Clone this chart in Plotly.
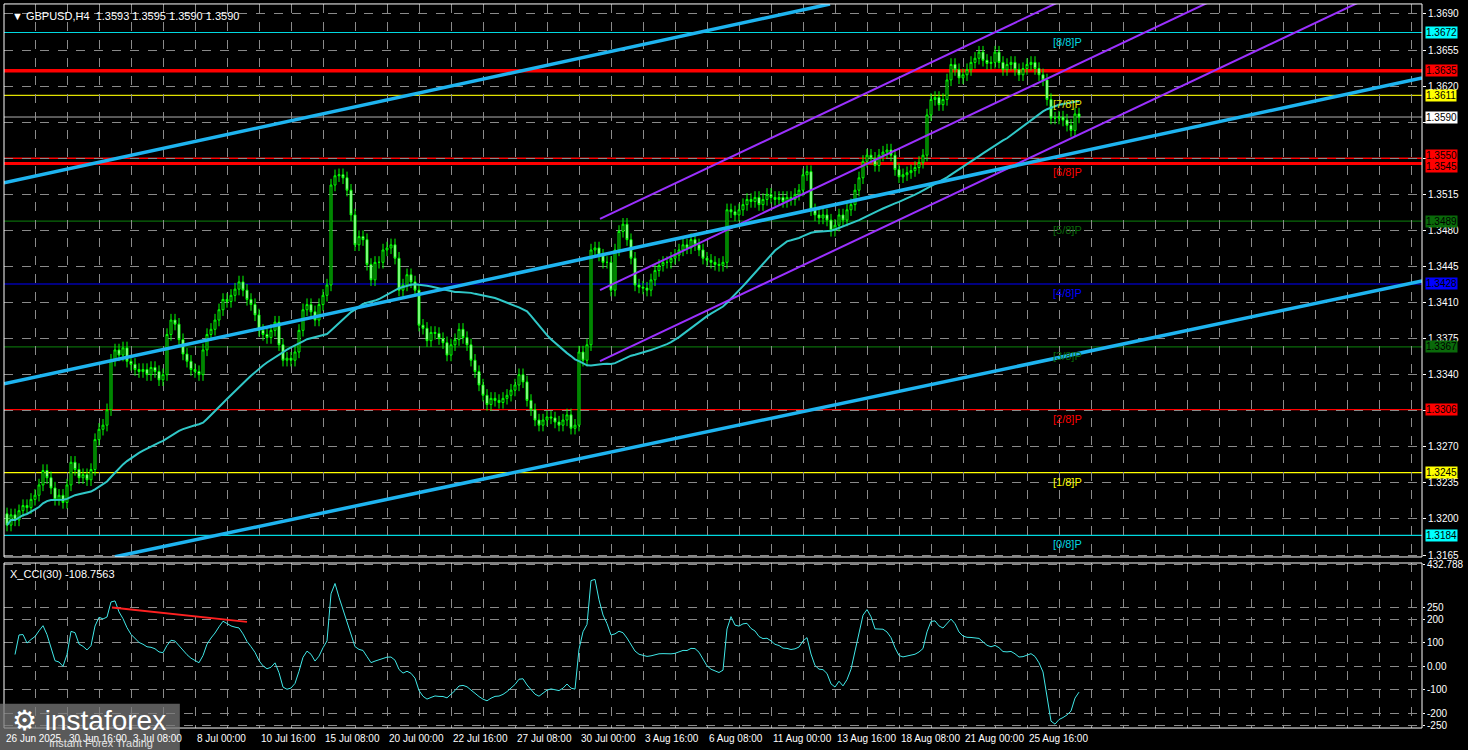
import numpy as np
import pandas as pd
import plotly.graph_objects as go

# ---------------- data ----------------
closes = [
 1.3194,1.3204,1.3199,1.3208,1.3213,1.3211,1.3219,1.3223,
 1.3233,1.3247,1.3240,1.3230,1.3219,1.3223,1.3216,1.3233,
 1.3255,1.3248,1.3240,1.3243,1.3238,1.3248,1.3277,1.3287,
 1.3291,1.3306,1.3354,1.3364,1.3359,1.3366,1.3353,1.3350,
 1.3345,1.3343,1.3345,1.3340,1.3347,1.3343,1.3335,1.3340,
 1.3379,1.3393,1.3389,1.3374,1.3360,1.3353,1.3345,1.3343,
 1.3340,1.3364,1.3379,1.3384,1.3393,1.3403,1.3413,1.3411,
 1.3417,1.3423,1.3430,1.3422,1.3413,1.3408,1.3398,1.3383,
 1.3379,1.3376,1.3383,1.3391,1.3369,1.3354,1.3356,1.3354,
 1.3362,1.3383,1.3403,1.3408,1.3401,1.3393,1.3408,1.3417,
 1.3427,1.3524,1.3533,1.3534,1.3531,1.3519,1.3495,1.3466,
 1.3474,1.3471,1.3447,1.3432,1.3449,1.3449,1.3461,1.3463,
 1.3466,1.3453,1.3422,1.3427,1.3437,1.3430,1.3422,1.3388,
 1.3385,1.3373,1.3381,1.3380,1.3375,1.3371,1.3359,1.3369,
 1.3374,1.3384,1.3376,1.3369,1.3354,1.3343,1.3330,1.3320,
 1.3311,1.3317,1.3315,1.3313,1.3317,1.3320,1.3325,1.3330,
 1.3340,1.3333,1.3315,1.3306,1.3296,1.3291,1.3296,1.3299,
 1.3298,1.3294,1.3291,1.3296,1.3301,1.3288,1.3291,1.3362,
 1.3354,1.3369,1.3461,1.3463,1.3456,1.3449,1.3449,1.3422,
 1.3461,1.3479,1.3486,1.3471,1.3453,1.3427,1.3425,1.3424,
 1.3422,1.3432,1.3441,1.3446,1.3449,1.3449,1.3453,1.3456,
 1.3461,1.3466,1.3463,1.3471,1.3466,1.3461,1.3453,1.3451,
 1.3449,1.3447,1.3446,1.3449,1.3500,1.3498,1.3495,1.3500,
 1.3505,1.3510,1.3508,1.3512,1.3505,1.3510,1.3515,1.3512,
 1.3510,1.3512,1.3508,1.3512,1.3510,1.3515,1.3519,1.3534,
 1.3537,1.3500,1.3495,1.3492,1.3495,1.3490,1.3480,1.3485,
 1.3495,1.3490,1.3500,1.3505,1.3519,1.3531,1.3547,1.3553,
 1.3550,1.3543,1.3553,1.3556,1.3558,1.3553,1.3539,1.3532,
 1.3534,1.3536,1.3538,1.3541,1.3546,1.3553,1.3592,1.3607,
 1.3609,1.3602,1.3607,1.3626,1.3641,1.3636,1.3628,1.3631,
 1.3636,1.3643,1.3647,1.3653,1.3645,1.3642,1.3643,1.3653,
 1.3643,1.3636,1.3641,1.3643,1.3636,1.3631,1.3637,1.3641,
 1.3643,1.3637,1.3631,1.3626,1.3607,1.3589,1.3589,1.3590,
 1.3587,1.3582,1.3577,1.3593,1.3590,
]
first_open = 1.3205
wick = 0.0006

date_bars = [-0.7, 15, 31, 47, 63, 79, 95, 111, 127, 143, 159, 175, 191, 207, 223, 239, 255]
date_labels = ["26 Jun 2025", "30 Jun 16:00", "3 Jul 08:00", "8 Jul 00:00", "10 Jul 16:00",
               "15 Jul 08:00", "20 Jul 00:00", "22 Jul 16:00", "27 Jul 08:00", "30 Jul 00:00",
               "3 Aug 16:00", "6 Aug 08:00", "11 Aug 00:00", "13 Aug 16:00", "18 Aug 08:00",
               "21 Aug 00:00", "25 Aug 16:00"]

price_ticks = [1.3690, 1.3655, 1.3620, 1.3585, 1.3550, 1.3515, 1.3480, 1.3445, 1.3410,
               1.3375, 1.3340, 1.3305, 1.3270, 1.3235, 1.3200, 1.3165]
price_tick_text = ["1.3690", "1.3655", "1.3620", "", "", "1.3515", "1.3480", "1.3445", "1.3410",
                   "1.3375", "1.3340", "", "1.3270", "1.3235", "1.3200", "1.3165"]

murray_prices = [1.3672, 1.3611, 1.3489, 1.3428, 1.3367, 1.3306, 1.3245, 1.3184, 1.3545]
murray_labels = ["[8/8]P", "[7/8]P", "[5/8]P", "[4/8]P", "[3/8]P", "[2/8]P", "[1/8]P", "[0/8]P", "[6/8]P"]
murray_colors = ["#00d8e0", "#e0e000", "#0a6a0a", "#0000ff", "#0a6a0a", "#ff0000", "#ffff00", "#00d8e0", "#ff0000"]
murray_widths = [1.2, 1.2, 1.2, 1.2, 1.2, 1.2, 1.2, 1.2, 3]

extra_levels = [1.3635, 1.3550, 1.3590]
extra_colors = ["#ff0000", "#ff0000", "#b0b0b0"]
extra_widths = [3.5, 1.5, 1]

box_prices = [1.3672, 1.3635, 1.3611, 1.3590, 1.3550, 1.3545, 1.3489, 1.3428, 1.3367, 1.3306, 1.3245, 1.3184]
box_bg = ["#00ffff", "#ff0000", "#ffff00", "#ffffff", "#ff0000", "#ff0000", "#0a6a0a", "#0000ff", "#0a6a0a", "#ff0000", "#ffff00", "#00ffff"]
box_yshift = [0, 0, 0, 0, 3, -3, 0, 0, 0, 0, 0, 0]

# trend lines: (bar0, price0, bar1, price1)
blue_lines = [(-0.75, 1.35261, 205.75, 1.36997),
              (-0.75, 1.33311, 353.75, 1.36279),
              (27.0, 1.31633, 353.75, 1.34310)]
purple_lines = [(148.25, 1.34911, 340.0, 1.38430),
                (148.25, 1.34221, 340.0, 1.37740),
                (148.25, 1.33531, 340.0, 1.37050)]
cci_trend = (26.25, 250.0, 60.0, 189.0)

cci_ticks = [432.788, 250, 200, 100, 0, -100, -200, -250, -265.497]
cci_tick_text = ["432.788", "250", "200", "100", "0.00", "-100", "-200", "-250", "-265.497"]

# ---------------- build ----------------
n = len(closes)
bars = np.arange(n)
opens = [first_open] + closes[:-1]
highs = [max(o, c) + wick for o, c in zip(opens, closes)]
lows = [min(o, c) - wick for o, c in zip(opens, closes)]
df = pd.DataFrame(dict(o=opens, h=highs, l=lows, c=closes))
ma = df.c.rolling(50, min_periods=1).mean()
tp = (df.h + df.l + df.c) / 3
sma = tp.rolling(30, min_periods=3).mean()
md = tp.rolling(30, min_periods=3).apply(lambda s: np.mean(np.abs(s - s.mean())), raw=True)
cci = (tp - sma) / (0.015 * md)

fig = go.Figure()
LINE = "#00ff00"
fig.add_trace(go.Candlestick(x=bars, open=df.o, high=df.h, low=df.l, close=df.c,
    increasing=dict(line=dict(color=LINE, width=1), fillcolor="#000000"),
    decreasing=dict(line=dict(color=LINE, width=1), fillcolor="#ffffff"),
    whiskerwidth=0, xaxis="x", yaxis="y", showlegend=False, hoverinfo="skip"))
fig.add_trace(go.Scatter(x=bars, y=ma, mode="lines", line=dict(color="#30c8c8", width=2),
                         xaxis="x", yaxis="y", showlegend=False))
for (b0, p0, b1, p1) in purple_lines:
    fig.add_trace(go.Scatter(x=[b0, b1], y=[p0, p1], mode="lines",
                             line=dict(color="#9b30ff", width=2), showlegend=False))
for (b0, p0, b1, p1) in blue_lines:
    fig.add_trace(go.Scatter(x=[b0, b1], y=[p0, p1], mode="lines",
                             line=dict(color="#1eb4f0", width=3.5), showlegend=False))
fig.add_trace(go.Scatter(x=bars, y=cci, mode="lines", line=dict(color="#40e8e8", width=1),
                         xaxis="x2", yaxis="y2", showlegend=False))
fig.add_trace(go.Scatter(x=[cci_trend[0], cci_trend[2]], y=[cci_trend[1], cci_trend[3]], mode="lines",
                         line=dict(color="#ff2020", width=2), xaxis="x2", yaxis="y2", showlegend=False))

shapes = []
for p, c, w in zip(murray_prices + extra_levels, murray_colors + extra_colors, murray_widths + extra_widths):
    shapes.append(dict(type="line", xref="x domain", yref="y", x0=0, x1=1, y0=p, y1=p,
                       line=dict(color=c, width=w), layer="below"))
shapes.append(dict(type="rect", xref="paper", yref="paper", x0=0, x1=1, y0=0.2554, y1=0.9987,
                   line=dict(color="white", width=1)))
shapes.append(dict(type="rect", xref="paper", yref="paper", x0=0, x1=1, y0=0.0255, y1=0.2473,
                   line=dict(color="white", width=1)))
shapes.append(dict(type="rect", xref="paper", yref="paper", x0=-0.003, x1=0.124, y0=-0.006, y1=0.058,
                   fillcolor="rgba(120,120,120,0.75)", line=dict(width=0)))

ann = []
FONT = "Liberation Sans, Arial"
ann.append(dict(xref="paper", yref="paper", x=0.004, y=0.993, xanchor="left", yanchor="top",
                text="▼ GBPUSD,H4  1.3593 1.3595 1.3590 1.3590", showarrow=False,
                font=dict(color="white", size=11, family=FONT)))
ann.append(dict(xref="paper", yref="paper", x=0.003, y=0.243, xanchor="left", yanchor="top",
                text="X_CCI(30) -108.7563", showarrow=False, font=dict(color="white", size=11, family=FONT)))
for b, t in zip(date_bars, date_labels):
    ann.append(dict(xref="x2", yref="paper", x=b, y=0.021, xanchor="left", yanchor="top", text=t,
                    showarrow=False, font=dict(color="white", size=10, family=FONT)))
for p, t, c in zip(murray_prices, murray_labels, murray_colors):
    ann.append(dict(xref="x", yref="y", x=261, y=p, xanchor="left", yanchor="top", yshift=-1, text=t,
                    showarrow=False, font=dict(color=c, size=11, family=FONT)))
for p, bg, ys in zip(box_prices, box_bg, box_yshift):
    ann.append(dict(xref="paper", yref="y", x=1, y=p, xanchor="left", yanchor="middle", xshift=3,
                    yshift=ys, text=f"{p:.4f}", showarrow=False, bgcolor=bg, borderpad=0,
                    font=dict(color="#000000", size=10, family=FONT)))
ann.append(dict(xref="paper", yref="paper", x=0.004, y=0.036, xanchor="left", yanchor="middle",
                text="⚙ instaforex", showarrow=False, font=dict(color="white", size=28, family=FONT)))
ann.append(dict(xref="paper", yref="paper", x=0.03, y=0.006, xanchor="left", yanchor="middle",
                text="Instant Forex Trading", showarrow=False, font=dict(color="#e0e0e0", size=11, family=FONT)))

grid = dict(showgrid=True, gridcolor="#8a8a8a", griddash="dash", gridwidth=1, zeroline=False)
xcommon = dict(range=[-0.75, 353.75], tickvals=list(range(7, 354, 8)), showticklabels=False,
               ticks="", automargin=False, **grid)
fig.update_layout(
    width=1468, height=750, paper_bgcolor="black", plot_bgcolor="black",
    margin=dict(l=4, r=46, t=3, b=3, autoexpand=False), showlegend=False,
    xaxis=dict(domain=[0, 1], anchor="y", rangeslider=dict(visible=False), **xcommon),
    xaxis2=dict(domain=[0, 1], anchor="y2", matches="x", **xcommon),
    yaxis=dict(domain=[0.2554, 0.9987], range=[1.31631, 1.36997], side="right", automargin=False,
               tickvals=price_ticks, ticktext=price_tick_text, ticks="outside", ticklen=3,
               tickcolor="white", tickfont=dict(color="white", size=10, family=FONT), **grid),
    yaxis2=dict(domain=[0.0255, 0.2473], range=[-262.7, 439.5], side="right", automargin=False,
                tickvals=cci_ticks, ticktext=cci_tick_text, ticks="outside", ticklen=2,
                tickcolor="white", tickfont=dict(color="white", size=10, family=FONT), **grid),
    shapes=shapes, annotations=ann,
)
fig.write_html("out.html", config=dict(displayModeBar=False),
               post_script="document.body.style.margin='0';document.body.style.background='black';")
